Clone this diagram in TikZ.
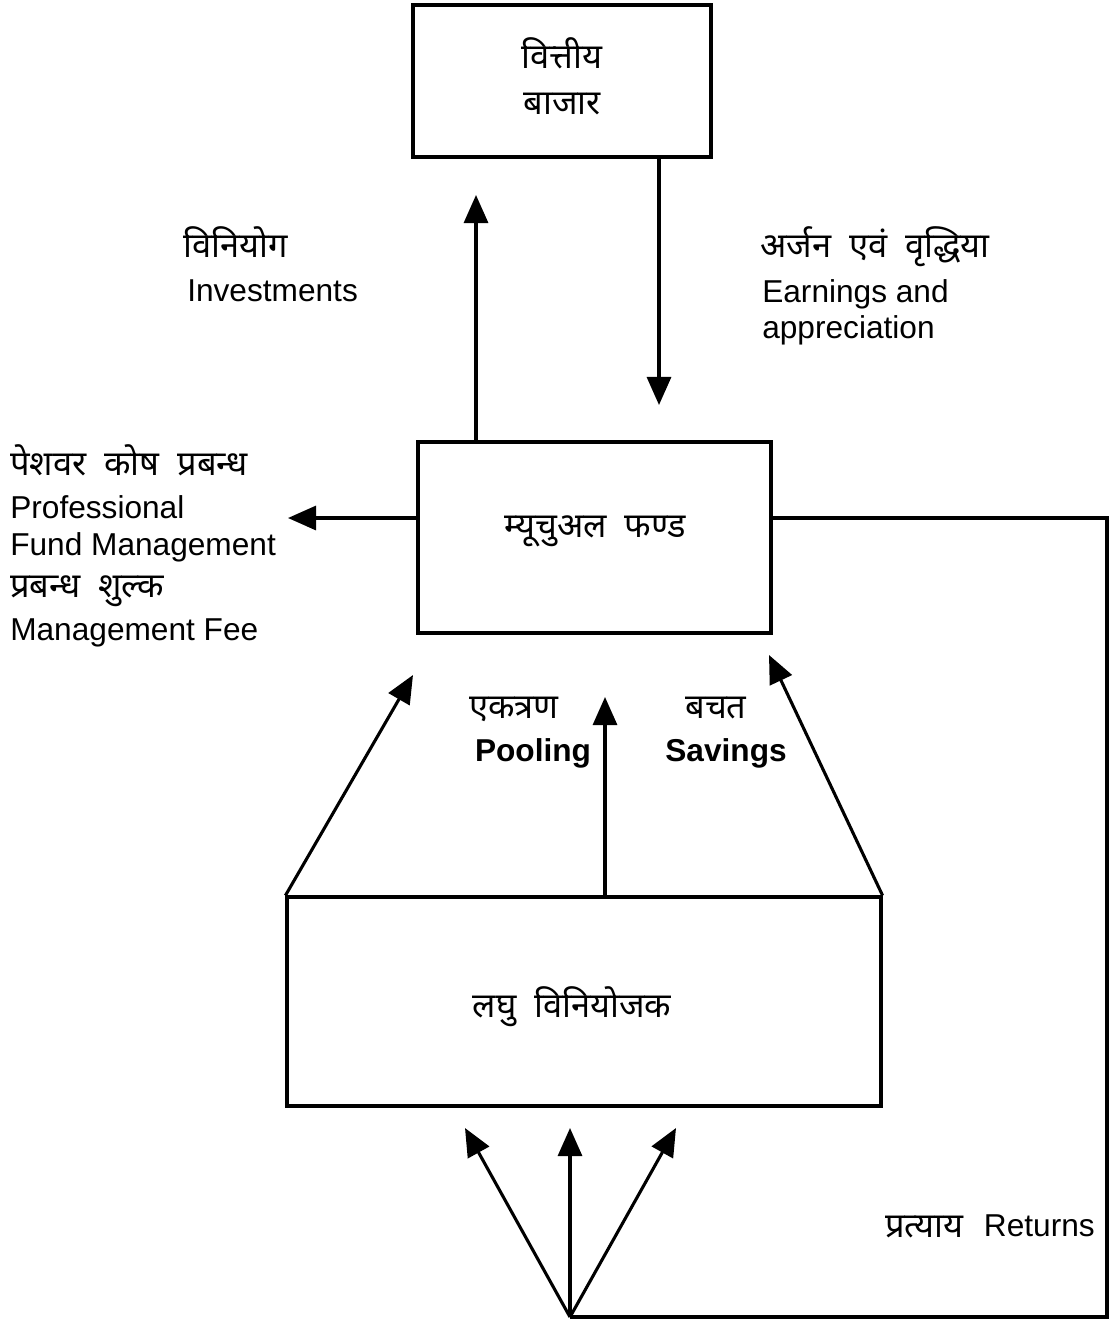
\documentclass[tikz,border=0pt]{standalone}
\usepackage{fontspec}
\setmainfont{Liberation Sans}
\newfontfamily\hindi[Script=Devanagari]{Noto Sans}
\usetikzlibrary{arrows.meta}
\usetikzlibrary{positioning}
\tikzset{box/.style = {draw, line width = 2.2pt, inner sep = 0}}
\tikzset{arr/.style = {line width = 2.2pt, -{Triangle[length = 0.7cm, width = 0.6cm]}}}
\tikzset{eng/.style = {inner sep = 0, font = \fontsize{22.5}{27}\selectfont}}
\tikzset{hin/.style = {inner sep = 0, font = \fontsize{24.5}{29}\hindi}}

\begin{document}
\begin{tikzpicture}[x=0.025cm, y=-0.025cm]
    \useasboundingbox (0, 0) rectangle (1110, 1320);

    \node [box, minimum width = 298*0.025cm, minimum height = 152*0.025cm] (market) at (562, 81) {};
    \node [box, minimum width = 353*0.025cm, minimum height = 191*0.025cm] (fund) at (594.5, 537.5) {};
    \node [box, minimum width = 594*0.025cm, minimum height = 209*0.025cm] (small) at (584, 1001.5) {};

    \node [hin, anchor = base] (market1) at (562, 69) {वित्तीय};
    \node [hin, anchor = base] (market2) at (562, 115) {बाजार};
    \node [hin, anchor = base] (fundtxt) at (595, 537) {म्यूचुअल~~फण्ड};
    \node [hin, anchor = base] (smalltxt) at (572, 1017) {लघु~~विनियोजक};

    % investments and earnings
    \coordinate (invtip) at (476, 195);
    \coordinate (earntip) at (659, 405);
    \draw [arr] (fund.north -| invtip) -- (invtip);
    \draw [arr] (market.south -| earntip) -- (earntip);
    \node [hin, anchor = base west] (inv1) at (183, 257) {विनियोग};
    \node [eng, anchor = base west] (inv2) at (187, 301) {Investments};
    \node [hin, anchor = base west] (earn1) at (760, 257) {अर्जन~~एवं~~वृद्धिया};
    \node [eng, anchor = base west] (earn2) at (762, 302) {Earnings and};
    \node [eng, anchor = base west] (earn3) at (762, 338) {appreciation};

    % management fee
    \coordinate (feetip) at (288, 518);
    \draw [arr] (fund.west |- feetip) -- (feetip);
    \node [hin, anchor = base west] (fee1) at (10, 475) {पेशवर~~कोष~~प्रबन्ध};
    \node [eng, anchor = base west] (fee2) at (10, 518) {Professional};
    \node [eng, anchor = base west] (fee3) at (10, 555) {Fund Management};
    \node [hin, anchor = base west] (fee4) at (10, 597) {प्रबन्ध~~शुल्क};
    \node [eng, anchor = base west] (fee5) at (10, 640) {Management Fee};

    % pooling of savings
    \coordinate (pooltipl) at (413, 675);
    \coordinate (pooltipm) at (605, 697);
    \coordinate (pooltipr) at (769, 655);
    \draw [arr] (small.north west) -- (pooltipl);
    \draw [arr] (small.north -| pooltipm) -- (pooltipm);
    \draw [arr] (small.north east) -- (pooltipr);
    \node [hin, anchor = base] (pool1) at (514, 718) {एकत्रण};
    \node [eng, anchor = base, font = \fontsize{22.5}{27}\selectfont\bfseries] (pool2) at (533, 761) {Pooling};
    \node [hin, anchor = base] (save1) at (716, 718) {बचत};
    \node [eng, anchor = base, font = \fontsize{22.5}{27}\selectfont\bfseries] (save2) at (726, 761) {Savings};

    % returns
    \coordinate (corner1) at (1107, 518);
    \coordinate (corner2) at (1107, 1317);
    \coordinate (root) at (570, 1317);
    \draw [line width = 2.2pt] (fund.east |- corner1) -- (corner1) -- (corner2) -- (root);
    \coordinate (rettipl) at (465, 1128);
    \coordinate (rettipm) at (570, 1128);
    \coordinate (rettipr) at (676, 1128);
    \draw [arr] (root) -- (rettipl);
    \draw [arr] (root) -- (rettipm);
    \draw [arr] (root) -- (rettipr);
    \node [hin, anchor = base west] (ret1) at (885, 1237) {प्रत्याय};
    \node [eng, anchor = base east] (ret2) at (1095, 1236) {Returns};
  \end{tikzpicture}
\end{document}
